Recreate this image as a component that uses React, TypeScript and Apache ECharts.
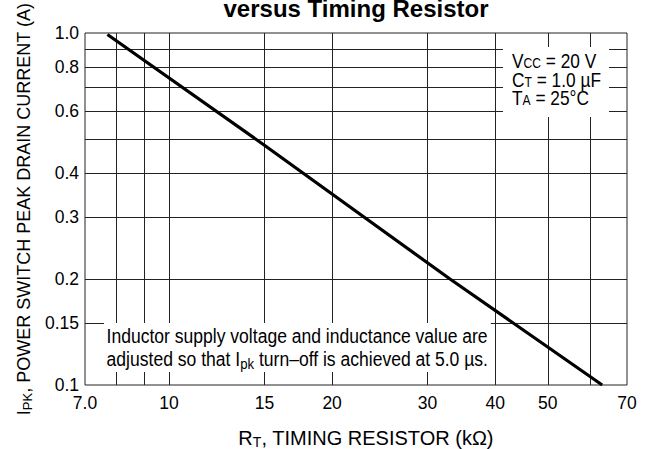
import React, { useEffect, useRef } from 'react';
import * as echarts from 'echarts';

// Axis label values / texts (log-log chart)
const xLabelValues = [7, 10, 15, 20, 30, 40, 50, 70];
const xLabelTexts = ['7.0', '10', '15', '20', '30', '40', '50', '70'];
const xGridValues = [8, 9, 10, 15, 20, 30, 40, 50, 60];
const yLabelValues = [0.1, 0.15, 0.2, 0.3, 0.4, 0.6, 0.8, 1.0];
const yLabelTexts = ['0.1', '0.15', '0.2', '0.3', '0.4', '0.6', '0.8', '1.0'];
const yGridValues = [0.15, 0.2, 0.3, 0.4, 0.5, 0.6, 0.7, 0.8, 0.9];

// Curve: R_T (kΩ) vs I_pk (A)
const resistorK = [7.7, 15, 33, 63];
const peakCurrentA = [0.99, 0.48, 0.2, 0.1];

const FONT = "'Liberation Sans', Arial, Helvetica, sans-serif";
const lg = (v: number) => Math.log10(v);

function labelFor(v: number, vals: number[], texts: string[]) {
  for (let i = 0; i < vals.length; i++) {
    if (Math.abs(lg(vals[i]) - v) < 1e-6) return texts[i];
  }
  return '';
}

const richMain = (size: number, lh: number) => ({ fontSize: size, fontFamily: FONT, color: '#000', lineHeight: lh });
const richSub = (size: number, lh: number) => ({ fontSize: size, fontFamily: FONT, color: '#000', lineHeight: lh, verticalAlign: 'bottom' });

export default function App() {
  const ref = useRef<HTMLDivElement>(null);
  useEffect(() => {
    document.body.style.margin = '0';
    if (!ref.current) return;
    const chart = echarts.init(ref.current, undefined, { renderer: 'svg' });
    const gridColor = '#222';
    const option: any = {
      animation: false,
      textStyle: { fontFamily: FONT },
      grid: {
        left: 85, right: 23, top: 33, bottom: 64,
        show: true, borderColor: gridColor, borderWidth: 1,
        containLabel: false, outerBoundsMode: 'none',
      },
      xAxis: {
        type: 'value',
        min: lg(7), max: lg(70),
        axisLine: { show: false },
        axisTick: { show: false, customValues: xGridValues.map(lg) },
        splitLine: { show: true, lineStyle: { color: gridColor, width: 1 } },
        axisLabel: {
          customValues: xLabelValues.map(lg),
          formatter: (v: number) => labelFor(v, xLabelValues, xLabelTexts),
          color: '#000', fontSize: 17.5, fontFamily: FONT, margin: 9,
        },
        name: '{m|R}{s|T}{m|, TIMING RESISTOR (kΩ)}',
        nameLocation: 'middle',
        nameGap: 42,
        nameTextStyle: { padding: [0, 0, 0, 20], rich: { m: richMain(20, 22), s: richSub(14, 10) } },
      },
      yAxis: {
        type: 'value',
        min: lg(0.1), max: lg(1.0),
        axisLine: { show: false },
        axisTick: { show: false, customValues: yGridValues.map(lg) },
        splitLine: { show: true, lineStyle: { color: gridColor, width: 1 } },
        axisLabel: {
          customValues: yLabelValues.map(lg),
          formatter: (v: number) => labelFor(v, yLabelValues, yLabelTexts),
          color: '#000', fontSize: 17.5, fontFamily: FONT, margin: 6,
        },
        name: '{m|I}{s|PK}{m|, POWER SWITCH PEAK DRAIN CURRENT (A)}',
        nameLocation: 'middle',
        nameGap: 38,
        nameTextStyle: { rich: { m: richMain(18, 20), s: richSub(13, 8) } },
      },
      series: [
        {
          type: 'line',
          data: resistorK.map((r, i) => [lg(r), lg(peakCurrentA[i])]),
          symbol: 'none',
          lineStyle: { color: '#000', width: 3.2 },
          z: 5,
        },
      ],
      graphic: [
        {
          type: 'text', x: 356, y: 8.5, z: 10,
          style: {
            text: 'versus Timing Resistor',
            font: "bold 24px 'Liberation Sans', Arial, sans-serif",
            fill: '#000', align: 'center', verticalAlign: 'middle',
            textAlign: 'center', textVerticalAlign: 'middle',
          },
        },
        {
          type: 'rect', z: 10,
          shape: { x: 503, y: 47, width: 106, height: 70 },
          style: { fill: '#fff' },
        },
        {
          type: 'text', x: 512, y: 61, z: 11, scaleX: 0.865,
          style: {
            text: '{m|V}{s|CC}{m| = 20 V}',
            rich: { m: richMain(20, 18), s: richSub(14, 5) },
            align: 'left', verticalAlign: 'middle', textAlign: 'left', textVerticalAlign: 'middle',
          },
        },
        {
          type: 'text', x: 512, y: 80, z: 11, scaleX: 0.865,
          style: {
            text: '{m|C}{s|T}{m| = 1.0 µF}',
            rich: { m: richMain(20, 18), s: richSub(14, 5) },
            align: 'left', verticalAlign: 'middle', textAlign: 'left', textVerticalAlign: 'middle',
          },
        },
        {
          type: 'text', x: 512, y: 98, z: 11, scaleX: 0.865,
          style: {
            text: '{m|T}{s|A}{m| = 25°C}',
            rich: { m: richMain(20, 18), s: richSub(14, 5) },
            align: 'left', verticalAlign: 'middle', textAlign: 'left', textVerticalAlign: 'middle',
          },
        },
        {
          type: 'text', x: 104, y: 323, z: 11, scaleX: 0.877,
          style: {
            text: '{m|Inductor supply voltage and inductance value are}\n{m|adjusted so that I}{s|pk}{m| turn–off is achieved at 5.0 µs.}',
            rich: { m: richMain(20, 23.5), s: richSub(15, 9) },
            backgroundColor: '#fff',
            padding: [1, 3, 1, 3],
            align: 'left', verticalAlign: 'top', textAlign: 'left', textVerticalAlign: 'top',
          },
        },
      ],
    };
    chart.setOption(option);
    return () => chart.dispose();
  }, []);
  return <div ref={ref} style={{ width: 650, height: 449 }} />;
}
